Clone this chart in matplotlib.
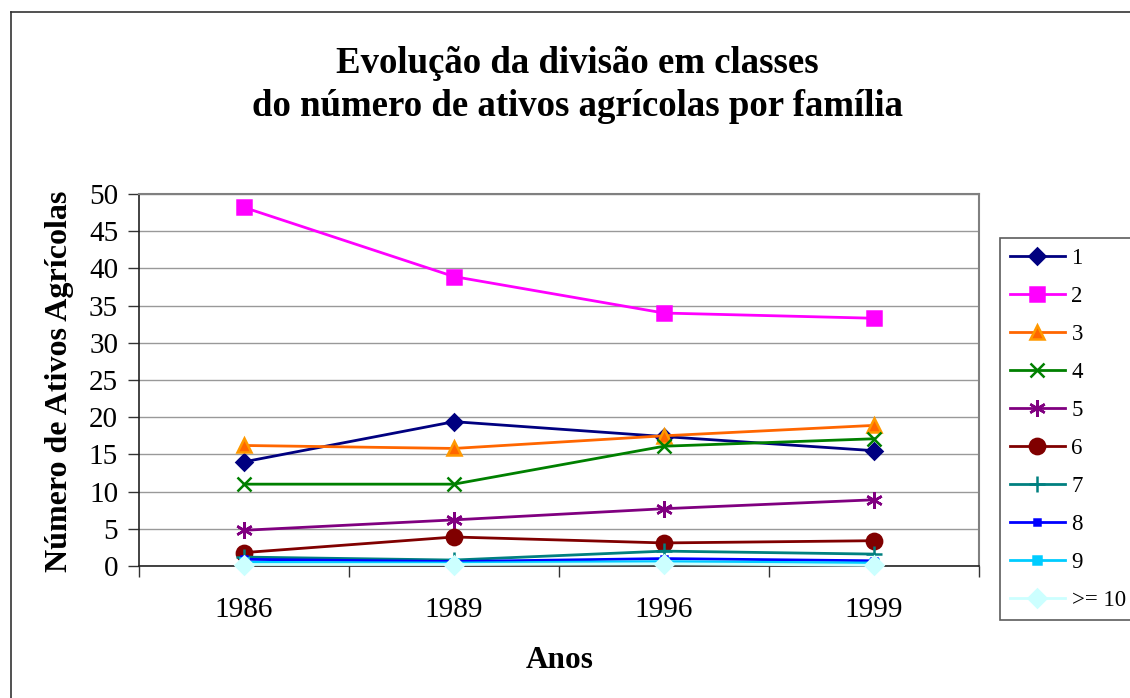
import numpy as np
import matplotlib.pyplot as plt
from matplotlib.lines import Line2D

plt.rcParams['font.family'] = ['Liberation Serif', 'DejaVu Serif']

anos = ['1986', '1989', '1996', '1999']
classes = ['1', '2', '3', '4', '5', '6', '7', '8', '9', '>= 10']

c1 = [14.0, 19.4, 17.4, 15.5]
c2 = [48.2, 38.9, 34.0, 33.3]
c3 = [16.2, 15.8, 17.5, 18.9]
c4 = [11.0, 11.0, 16.1, 17.1]
c5 = [4.8, 6.2, 7.7, 8.9]
c6 = [1.8, 3.9, 3.1, 3.4]
c7 = [1.2, 0.8, 2.0, 1.6]
c8 = [0.9, 0.6, 1.0, 0.7]
c9 = [0.5, 0.4, 0.6, 0.4]
c10 = [0.2, 0.2, 0.3, 0.1]
series = [c1, c2, c3, c4, c5, c6, c7, c8, c9, c10]

# line colour, marker, marker face, marker edge, marker size
styles = [
    ('#000080', 'D', '#000080', '#000080', 8),
    ('#FF00FF', 's', '#FF00FF', '#FF00FF', 10),
    ('#FF6600', '^', '#FF6600', '#FF9900', 10),
    ('#008000', 'x', '#008000', '#008000', 10),
    ('#800080', (6, 2, 0), '#800080', '#800080', 12),
    ('#800000', 'o', '#800000', '#800000', 11),
    ('#008080', '+', '#008080', '#008080', 11),
    ('#0000FF', 's', '#0000FF', '#0000FF', 4.5),
    ('#00CCFF', 's', '#00CCFF', '#00CCFF', 5.5),
    ('#CCFFFF', 'D', '#CCFFFF', '#CCFFFF', 9),
]

W, H = 1130, 698
fig = plt.figure(figsize=(W / 100, H / 100), dpi=100)

# outer chart frame (left and top edges visible)
fig.add_artist(Line2D([11 / W, 11 / W], [0, 1 - 12 / H], color='#333333', lw=1.2))
fig.add_artist(Line2D([11 / W, 1], [1 - 12 / H, 1 - 12 / H], color='#333333', lw=1.2))

ax = fig.add_axes([139 / W, (H - 566) / H, (979 - 139) / W, (566 - 194) / H])
x = np.arange(len(anos))

handles = []
for vals, name, (col, mk, fc, ec, ms) in zip(series, classes, styles):
    h, = ax.plot(x, vals, color=col, lw=2, marker=mk, markerfacecolor=fc,
                 markeredgecolor=ec, markersize=ms, markeredgewidth=1.8,
                 label=name, clip_on=False, zorder=3)
    handles.append(h)

ax.set_xlim(-0.5, len(anos) - 0.5)
ax.set_ylim(0, 50)
ax.set_yticks(np.arange(0, 51, 5))
ax.yaxis.grid(True, color='#999999', lw=1)
ax.set_axisbelow(True)

ax.set_xticks(np.arange(-0.5, len(anos), 1))
ax.set_xticklabels([])
ax.set_xticks(x, minor=True)
ax.set_xticklabels(anos, minor=True)
ax.tick_params(axis='x', which='major', direction='out', length=8, width=1, color='#333333')
ax.tick_params(axis='x', which='minor', length=0, pad=22, labelsize=21)
ax.tick_params(axis='y', direction='out', length=8, width=1, color='#333333', labelsize=21, pad=7)

for s in ['top', 'right']:
    ax.spines[s].set_color('#808080')
    ax.spines[s].set_linewidth(1.5)
for s in ['left', 'bottom']:
    ax.spines[s].set_color('#222222')
    ax.spines[s].set_linewidth(1.2)

fig.text(577 / W, 1 - 85 / H, 'Evolução da divisão em classes\ndo número de ativos agrícolas por família',
         ha='center', va='center', fontsize=26.5, fontweight='bold', linespacing=1.33)
fig.text(560 / W, 1 - 660 / H, 'Anos', ha='center', va='center', fontsize=22.5, fontweight='bold')
fig.text(60 / W, 1 - 381 / H, 'Número de Ativos Agrícolas', ha='center', va='center',
         rotation=90, fontsize=23, fontweight='bold')

leg = fig.legend(handles=handles, loc='upper left', bbox_to_anchor=(1000 / W, 1 - 238 / H),
                 frameon=True, fancybox=False, fontsize=16.5, handlelength=2.4,
                 handletextpad=0.3, labelspacing=0.74, borderpad=0.42, borderaxespad=0)
leg.get_frame().set_edgecolor('#333333')
leg.get_frame().set_linewidth(1.2)

fig.savefig('out.png', dpi=100)
